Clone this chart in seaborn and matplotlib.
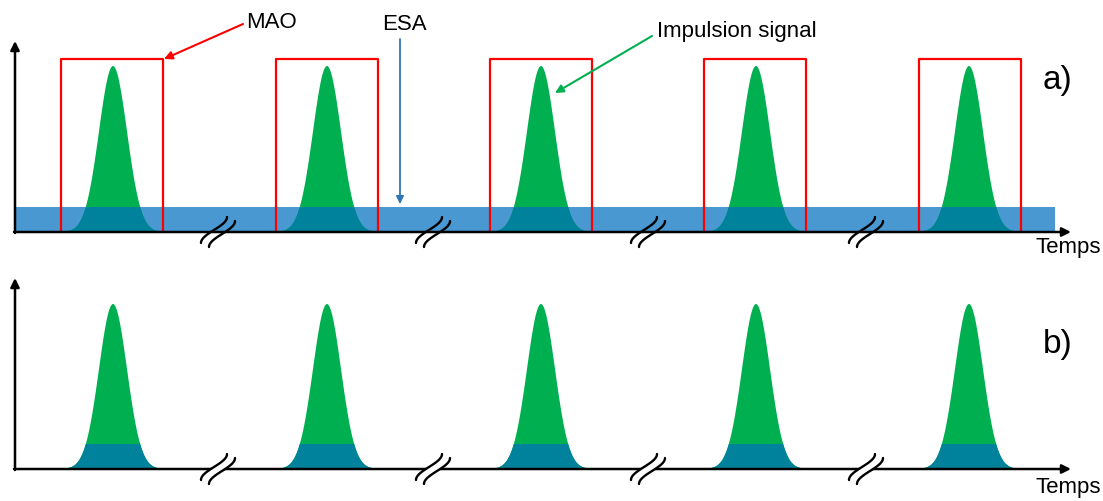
import numpy as np
import pandas as pd
import seaborn as sns
import matplotlib
matplotlib.use("Agg")
import matplotlib.pyplot as plt

sns.set_theme(style="white")
plt.rcParams['font.family'] = ['Liberation Sans', 'DejaVu Sans']

# ---- data (diagram coordinates, pixel-like units) ----
pulse_centers = [113, 327, 541, 756, 969]
pulse_sigma = 14.0
panel_baselines = [233, 470]      # y of time axis for panels a) and b)
pulse_heights = [166, 165]
overlap_height = 25               # ESA band height / teal part
mao_left = [61, 276, 490, 704, 919]
mao_right = [163, 378, 592, 806, 1021]
mao_top = 60
break_x = [218, 433, 648, 866]
panel_labels = ["a)", "b)"]
axis_label = "Temps"

GREEN = "#00B050"
TEAL = "#00829C"
BAND = "#4A98D2"
RED = "#FF0000"
ESA_BLUE = "#2E75B6"

fig = plt.figure(figsize=(11.03, 5.02), dpi=100)
ax = fig.add_axes([0, 0, 1, 1])
ax.set_xlim(0, 1103)
ax.set_ylim(502, 0)
ax.axis("off")

x = np.linspace(0, 1060, 3000)

def pulse_train(h):
    y = np.zeros_like(x)
    for c in pulse_centers:
        y += h * np.exp(-(x - c) ** 2 / (2 * pulse_sigma ** 2))
    return y

temps_offsets = [14, 18]
label_offsets = [153, 125]

for p, (base, h) in enumerate(zip(panel_baselines, pulse_heights)):
    amp = pulse_train(h)
    mask = amp > 0.3
    amp = np.where(mask, amp, 0)
    if p == 0:
        ax.fill_between([15, 1055], base - overlap_height, base, color=BAND, lw=0, zorder=1)
    df = pd.DataFrame({"t": x, "y": base - amp})
    ax.fill_between(x, base, base - amp, where=mask, color=GREEN, lw=0, zorder=2)
    sns.lineplot(data=df, x="t", y="y", ax=ax, color=GREEN, lw=0, zorder=2)
    low = np.minimum(amp, overlap_height)
    ax.fill_between(x, base, base - low, where=mask, color=TEAL, lw=0, zorder=3)

    # axes with arrows
    ax.annotate("", xy=(1071, base), xytext=(14, base),
                arrowprops=dict(arrowstyle="-|>", lw=1.8, color="black", mutation_scale=13,
                                shrinkA=0, shrinkB=0), zorder=6)
    ax.annotate("", xy=(15, base - 191), xytext=(15, base + 1),
                arrowprops=dict(arrowstyle="-|>", lw=1.8, color="black", mutation_scale=13,
                                shrinkA=0, shrinkB=0), zorder=6)
    ax.text(1068, base + temps_offsets[p], axis_label, fontsize=16, ha="center", va="center",
            color="black")
    ax.text(1058, base - label_offsets[p], panel_labels[p], fontsize=24,
            ha="center", va="center", color="black")

    # break marks
    t = np.linspace(-1, 1, 60)
    for bx in break_x:
        cx, cy = bx, base
        x1 = cx - 4 + 13 * np.sin(np.pi * t / 2); y1 = cy - 2 - 13 * t
        x2 = cx + 4 + 13 * np.sin(np.pi * t / 2); y2 = cy + 2 - 13 * t
        if p == 1:
            ax.fill(np.concatenate([x1, x2[::-1]]), np.concatenate([y1, y2[::-1]]),
                    color="white", lw=0, zorder=7)
        ax.plot(x1, y1, color="black", lw=1.7, zorder=8)
        ax.plot(x2, y2, color="black", lw=1.7, zorder=8)

# MAO rectangles
base = panel_baselines[0]
for l, r in zip(mao_left, mao_right):
    ax.plot([l, l, r, r], [base, mao_top, mao_top, base], color=RED, lw=1.6, zorder=5)

# annotations
ax.text(271, 22, "MAO", fontsize=16, ha="center", va="center", color="black")
ax.annotate("", xy=(164, 60), xytext=(243, 25),
            arrowprops=dict(arrowstyle="-|>", lw=1.5, color=RED, mutation_scale=12,
                            shrinkA=0, shrinkB=0), zorder=9)
ax.text(404, 25, "ESA", fontsize=16, ha="center", va="center", color="black")
ax.annotate("", xy=(400, 205), xytext=(400, 40),
            arrowprops=dict(arrowstyle="-|>", lw=1.3, color=ESA_BLUE, mutation_scale=11,
                            shrinkA=0, shrinkB=0), zorder=9)
ax.text(737, 32, "Impulsion signal", fontsize=16, ha="center", va="center", color="black")
ax.annotate("", xy=(555, 94), xytext=(652, 37),
            arrowprops=dict(arrowstyle="-|>", lw=1.5, color=GREEN, mutation_scale=12,
                            shrinkA=0, shrinkB=0), zorder=9)

fig.savefig("out.png", dpi=100)
